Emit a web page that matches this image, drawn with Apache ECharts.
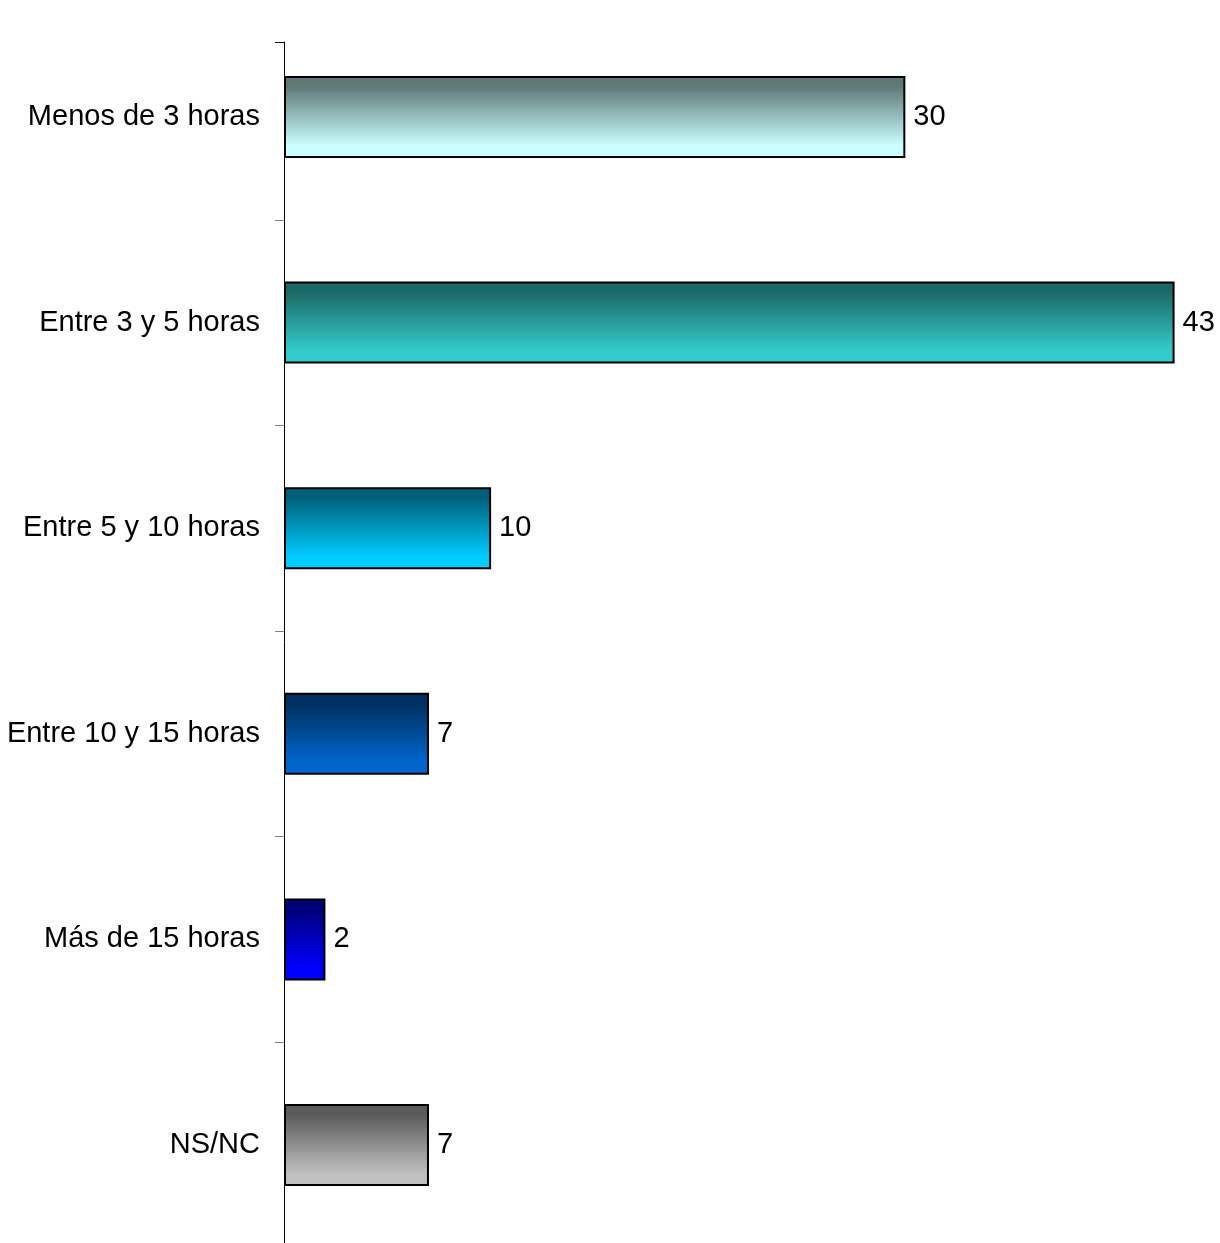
<!DOCTYPE html>
<html>
<head>
<meta charset="utf-8">
<script src="https://cdn.jsdelivr.net/npm/echarts@6/dist/echarts.min.js"></script>
<style>html,body{margin:0;padding:0;background:#fff;overflow:hidden}#c{width:1220px;height:1256px}</style>
</head>
<body>
<div id="c"></div>
<script>
const categories = ['Menos de 3 horas', 'Entre 3 y 5 horas', 'Entre 5 y 10 horas', 'Entre 10 y 15 horas', 'Más de 15 horas', 'NS/NC'];
const values = [30, 43, 10, 7, 2, 7];
const topColors = ['#5d7876', '#1b6966', '#005f78', '#00305f', '#000078', '#5a5a5a'];
const bottomColors = ['#ccffff', '#33cccc', '#00ccff', '#0066cc', '#0000ff', '#c0c0c0'];

const font = '"Liberation Sans", Arial, sans-serif';
const chart = echarts.init(document.getElementById('c'), null, {renderer: 'canvas'});

const data = values.map((v, i) => ({
  value: v,
  itemStyle: {
    color: new echarts.graphic.LinearGradient(0, 0, 0, 1, [
      {offset: 0, color: topColors[i]},
      {offset: 0.12, color: topColors[i]},
      {offset: 0.85, color: bottomColors[i]},
      {offset: 1, color: bottomColors[i]}
    ])
  }
}));

chart.setOption({
  animation: false,
  backgroundColor: '#fff',
  grid: [
    {left: 284, right: 4, top: 14.2, height: 1233.6, containLabel: false},
    {left: 284, right: 4, top: 42, height: 1201}
  ],
  xAxis: [
    {gridIndex: 0, type: 'value', min: 0, max: 45, show: false},
    {gridIndex: 1, type: 'value', min: 0, max: 1, show: false}
  ],
  yAxis: [
    {
      gridIndex: 0, type: 'category', data: categories, inverse: true,
      axisLine: {show: false},
      axisTick: {show: true, length: 9, lineStyle: {color: '#808080', width: 1},
        interval: function (i) { return i > 0; }},
      axisLabel: {color: '#000', fontSize: 29, fontFamily: font, margin: 24}
    },
    {
      gridIndex: 1, type: 'value', min: 0, max: 1, interval: 1,
      axisLine: {show: true, lineStyle: {color: '#000', width: 1}},
      axisTick: {show: true, length: 9, lineStyle: {color: '#000', width: 1}},
      axisLabel: {show: false},
      splitLine: {show: false}
    }
  ],
  series: [{
    type: 'bar',
    xAxisIndex: 0, yAxisIndex: 0,
    data: data,
    barWidth: 82,
    itemStyle: {borderColor: '#000', borderWidth: 2},
    label: {show: true, position: 'right', distance: 8, color: '#000', fontSize: 29, fontFamily: font}
  }]
});
</script>
</body>
</html>
